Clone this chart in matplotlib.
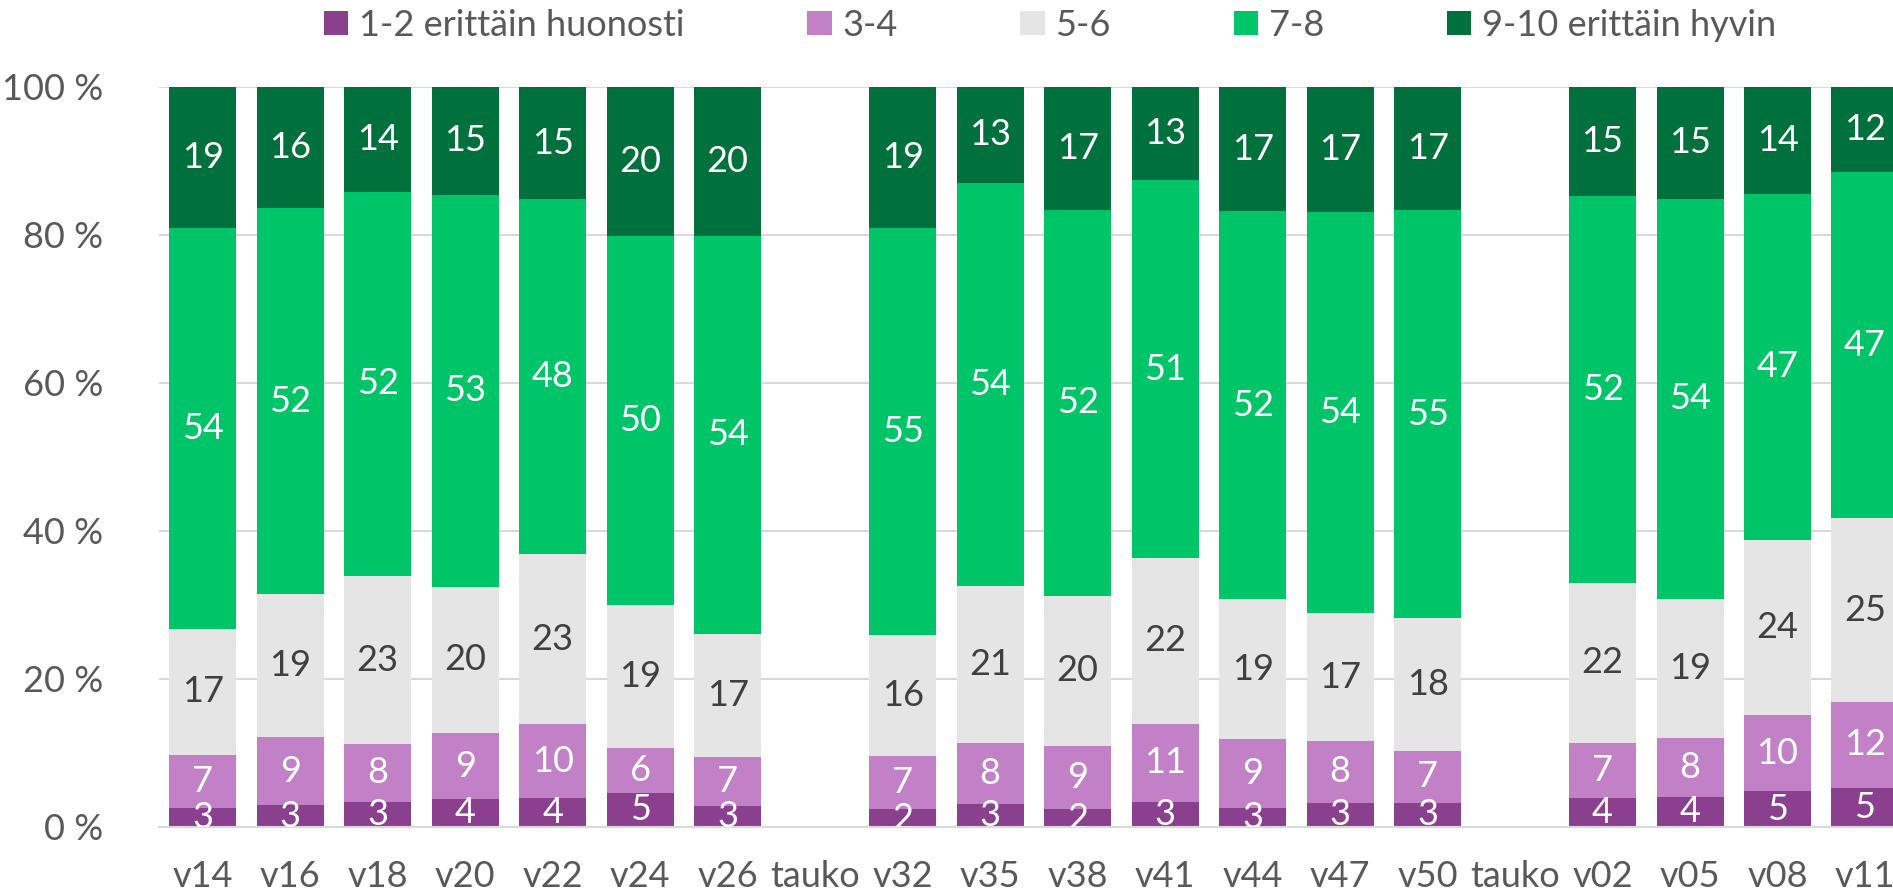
import matplotlib
matplotlib.use("Agg")
import matplotlib.pyplot as plt
import numpy as np

plt.rcParams["font.family"] = ["Lato", "DejaVu Sans"]

# viikot (tauko = ei mittausta)
weeks = ["v14", "v16", "v18", "v20", "v22", "v24", "v26", "tauko",
         "v32", "v35", "v38", "v41", "v44", "v47", "v50", "tauko",
         "v02", "v05", "v08", "v11"]

series_names = ["1-2 erittäin huonosti", "3-4", "5-6", "7-8", "9-10 erittäin hyvin"]

# osuudet (%), tauko-kohdissa None
s_1_2 = [2.6, 2.9, 3.4, 3.8, 3.9, 4.6, 2.8, None,
         2.4, 3.1, 2.4, 3.4, 2.6, 3.3, 3.3, None,
         3.9, 4.1, 4.8, 5.3]
s_3_4 = [7.2, 9.3, 7.8, 8.9, 10.0, 6.0, 6.7, None,
         7.2, 8.2, 8.6, 10.6, 9.3, 8.3, 7.0, None,
         7.4, 7.9, 10.3, 11.6]
s_5_6 = [17.0, 19.2, 22.6, 19.8, 23.0, 19.4, 16.6, None,
         16.3, 21.2, 20.2, 22.4, 18.9, 17.3, 17.9, None,
         21.7, 18.8, 23.7, 24.9]
s_7_8 = [54.3, 52.1, 51.9, 53.0, 47.9, 49.7, 53.8, None,
         55.0, 54.4, 52.1, 51.2, 52.4, 54.2, 55.2, None,
         52.2, 54.1, 46.8, 46.8]
s_9_10 = [19.1, 16.3, 14.1, 14.6, 15.2, 20.1, 20.1, None,
          19.1, 12.9, 16.6, 12.6, 16.8, 16.9, 16.6, None,
          14.7, 15.1, 14.4, 11.5]

colors = ["#8B3F8F", "#C280C6", "#E5E5E5", "#00C468", "#00713C"]
label_colors = ["white", "white", "#404040", "white", "white"]

W, H, DPI = 1893, 890, 100
fig = plt.figure(figsize=(W / DPI, H / DPI), dpi=DPI)
ax = fig.add_axes([159 / W, 1 - 827 / H, 1 - 159 / W, (827 - 87) / H])

data = np.array([[np.nan if v is None else v for v in s]
                 for s in [s_1_2, s_3_4, s_5_6, s_7_8, s_9_10]])
# Excel 100 % pinottu: normalisoidaan summaan 100
tot = np.nansum(data, axis=0)
tot[tot == 0] = 1
norm = data / tot * 100

x = np.arange(len(weeks))
bottom = np.zeros(len(weeks))
for i, name in enumerate(series_names):
    vals = np.nan_to_num(norm[i])
    ax.bar(x, vals, 0.766, bottom=bottom, color=colors[i], label=name,
           edgecolor="none", zorder=2)
    for j in range(len(weeks)):
        if np.isnan(data[i, j]):
            continue
        ax.text(x[j], bottom[j] + vals[j] / 2, f"{data[i, j]:.0f}",
                ha="center", va="center", fontsize=26, color=label_colors[i],
                clip_on=True, zorder=3)
    bottom += vals

ax.set_ylim(0, 100)
ax.set_xlim(-0.5, 19.32)
ax.set_yticks(np.arange(0, 101, 20))
ax.set_yticklabels([f"{t} %" for t in range(0, 101, 20)])
ax.set_xticks(x)
ax.set_xticklabels(weeks)
ax.tick_params(axis="both", length=0, labelsize=26, labelcolor="#595959")
ax.tick_params(axis="y", pad=40)
ax.tick_params(axis="x", pad=24)
ax.grid(axis="y", color="#D9D9D9", linewidth=1.5, zorder=0)
ax.set_axisbelow(True)
for sp in ["top", "right", "left"]:
    ax.spines[sp].set_visible(False)
ax.spines["bottom"].set_color("#D9D9D9")
ax.spines["bottom"].set_linewidth(1.5)

leg = fig.legend(loc="center", bbox_to_anchor=(1050 / W, 1 - 25 / H), ncol=5,
                 frameon=False, fontsize=26, handlelength=0.67, handleheight=0.67,
                 handletextpad=0.3, columnspacing=3.4, borderaxespad=0)
for t in leg.get_texts():
    t.set_color("#595959")

fig.savefig("out.png", dpi=DPI)
